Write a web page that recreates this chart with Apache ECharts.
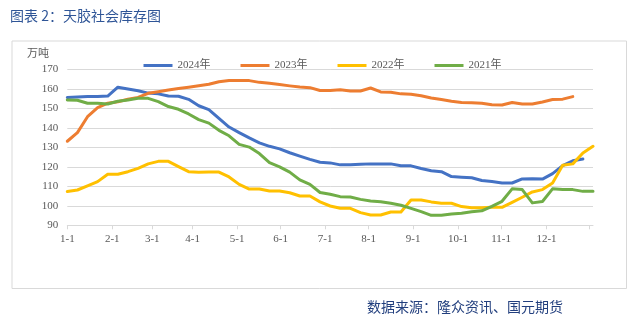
<!DOCTYPE html>
<html>
<head>
<meta charset="utf-8">
<script src="https://cdn.jsdelivr.net/npm/echarts@6/dist/echarts.min.js"></script>
<style>
html,body{margin:0;padding:0;background:#fff;}
#chart{width:639px;height:324px;}
</style>
</head>
<body>
<div id="chart"></div>
<script>
// ---- data (weekly, week 0 = Jan 1) ----
var seriesNames = ["2024年", "2023年", "2022年", "2021年"];
var y2024 = [155.6,155.8,156,156,156.3,160.8,159.9,159,157.8,157.4,156.3,156.2,154.6,151.3,149.3,144.8,140.4,137.5,134.8,132.3,130.5,129.2,127.2,125.5,123.8,122.3,122,121,121,121.3,121.5,121.5,121.5,120.5,120.5,119.1,118,117.5,115,114.7,114.4,113,112.5,111.7,111.7,113.8,113.9,113.7,116.5,120.6,123.1,124,null];
var y2023 = [133.1,137.5,145.7,150.3,152.6,153.4,154.6,155.6,157.7,158.5,159.4,160.1,160.8,161.6,162.3,163.6,164.2,164.2,164.2,163.3,162.8,162.2,161.5,160.9,160.6,159.1,159.1,159.5,158.9,158.9,160.4,158.4,158.2,157.4,157.2,156.4,155.3,154.5,153.6,153,152.9,152.6,151.8,151.7,153,152.2,152.2,153.2,154.5,154.7,156,null,null];
var y2022 = [107.3,108.1,110.2,112.4,116.2,116.2,117.5,119.2,121.5,122.8,122.8,120.1,117.5,117.2,117.3,117.3,114.8,111,108.6,108.6,107.6,107.6,106.7,105,105,102,99.9,98.7,98.7,96.5,95.3,95.3,96.8,96.8,103,103,102,101.3,101.3,99.6,99,99,99.2,99.2,101.8,104.4,107.1,108.3,111.7,120.8,121.5,127.1,130.5];
var y2021 = [154.3,154.1,152.6,152.6,152.2,153.6,154.3,155.1,155.1,153.4,150.9,149.5,147.1,144.2,142.4,138.7,135.9,131.5,130.1,126.8,122.1,120,117.3,113.3,111,106.8,105.9,104.7,104.5,103.3,102.5,102.1,101.3,100.3,98.7,97,95.1,95.1,95.8,96.2,97,97.4,99.7,102.3,108.7,108.3,101.5,102.2,108.7,108.3,108.3,107.4,107.4];
var xTickLabels = ["1-1","2-1","3-1","4-1","5-1","6-1","7-1","8-1","9-1","10-1","11-1","12-1"];
var xTickWeeks = [0,4.45,8.4,12.4,16.8,21.1,25.5,29.8,34.2,38.65,42.9,47.4,51.6];
var yMin = 90, yMax = 170, yStep = 10;

var colors = ["#4472C4", "#ED7D31", "#FFC000", "#70AD47"];
var allValues = [y2024, y2023, y2022, y2021];

function toPairs(arr){ return arr.map(function(v,i){ return [i, v]; }); }

var chart = echarts.init(document.getElementById('chart'), null, {renderer:'canvas'});
var serif = '"Liberation Serif","Noto Sans CJK SC",serif';
var option = {
  animation: false,
  backgroundColor: '#fff',
  title: [
    {text: '图表 2：天胶社会库存图', left: 10, top: 9, padding: 0,
     textStyle: {fontFamily: '"Noto Sans CJK SC"', fontSize: 14, fontWeight: 'normal', color: '#2F5597'}},
    {text: '数据来源：隆众资讯、国元期货', left: 367, top: 300, padding: 0,
     textStyle: {fontFamily: '"Noto Sans CJK SC"', fontSize: 14, fontWeight: 'normal', color: '#223F7E'}},
    {text: '万吨', left: 27, top: 47, padding: 0,
     textStyle: {fontFamily: '"Noto Sans CJK SC"', fontSize: 11, fontWeight: 'normal', color: '#595959'}}
  ],
  graphic: [{
    type: 'rect', left: 9.5, top: 38.5, silent: true,
    shape: {width: 614.5, height: 247.5},
    style: {fill: 'none', stroke: '#D9D9D9', lineWidth: 1}
  }],
  legend: {
    left: 138.5, top: 55,
    icon: 'rect', itemWidth: 29, itemHeight: 3, itemGap: 30,
    textStyle: {fontFamily: serif, fontSize: 11, color: '#595959'},
    data: seriesNames
  },
  grid: {left: 67.3, right: 46, top: 69.3, bottom: 98.7, containLabel: false},
  xAxis: {
    type: 'value', min: 0, max: 52,
    splitLine: {show: false},
    axisLine: {show: true, lineStyle: {color: '#D9D9D9', width: 1}},
    axisTick: {show: true, length: 4, lineStyle: {color: '#D9D9D9'}, customValues: xTickWeeks},
    axisLabel: {
      customValues: xTickWeeks.slice(0, xTickLabels.length),
      margin: 8, fontFamily: serif, fontSize: 11, color: '#595959',
      formatter: function(v){
        var best = 0, d = 1e9;
        for (var i = 0; i < xTickLabels.length; i++) { var dd = Math.abs(xTickWeeks[i]-v); if (dd < d) { d = dd; best = i; } }
        return xTickLabels[best];
      }
    }
  },
  yAxis: {
    type: 'value', min: yMin, max: yMax, interval: yStep,
    axisLine: {show: false}, axisTick: {show: false},
    splitLine: {lineStyle: {color: '#D9D9D9', width: 1}},
    axisLabel: {margin: 9, fontFamily: serif, fontSize: 11, color: '#595959'}
  },
  series: seriesNames.map(function(n, k){
    return {
      name: n, type: 'line', data: toPairs(allValues[k]),
      showSymbol: false, symbol: 'none', connectNulls: false,
      lineStyle: {color: colors[k], width: 3, join: 'round', cap: 'round'},
      itemStyle: {color: colors[k]}
    };
  })
};
chart.setOption(option);
</script>
</body>
</html>
